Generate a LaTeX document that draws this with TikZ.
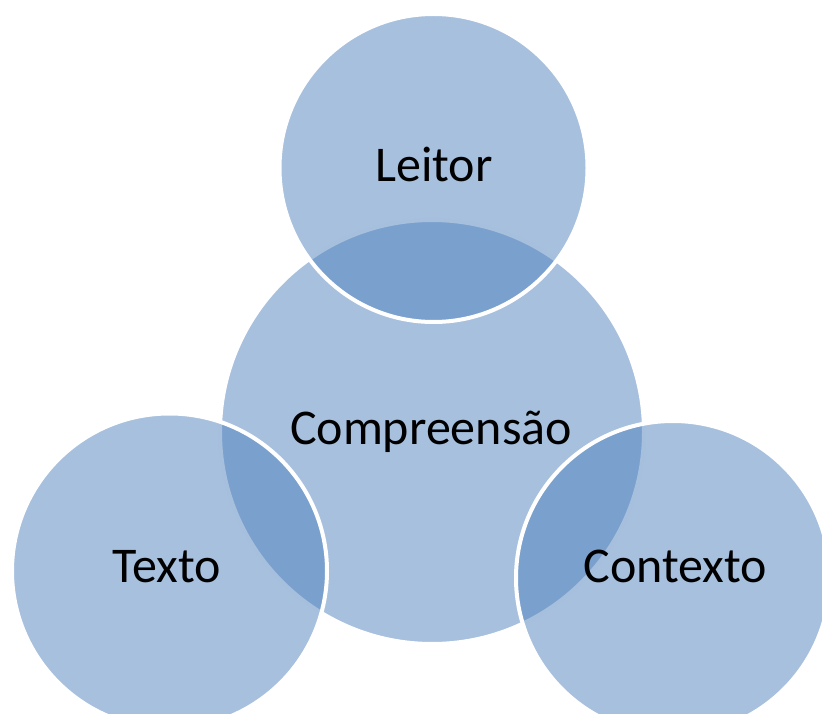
\documentclass[tikz,border=0pt]{standalone}
\usepackage{fontspec}
\setmainfont{Carlito}
\usetikzlibrary{positioning}
\definecolor{venn}{HTML}{4F81BD}

\begin{document}
\begin{tikzpicture}[x=1pt,y=1pt,font=\fontsize{50}{60}\selectfont]
	\tikzstyle{bubble}=[circle,draw=white,line width=4pt,fill=venn,fill opacity=0.5,inner sep=0pt]
	\tikzstyle{word}=[anchor=base,text=black,inner sep=0pt]
	\useasboundingbox (0,0) rectangle (822,713);
	
	\node[bubble,minimum size=424] (Comp) at (432,281)   {};
	\node[bubble,minimum size=308] (Leit) at (433.5,545) {};
	\node[bubble,minimum size=315] (Text) at (169.5,142) {};
	\node[bubble,minimum size=314] (Cont) at (673,135)   {};
	
	\node[word] (Comp_t) at (431,268)   {Compreensão};
	\node[word] (Leit_t) at (434,531)   {Leitor};
	\node[word] (Text_t) at (167,131)   {Texto};
	\node[word] (Cont_t) at (675.5,131) {Contexto};
\end{tikzpicture}
\end{document}
